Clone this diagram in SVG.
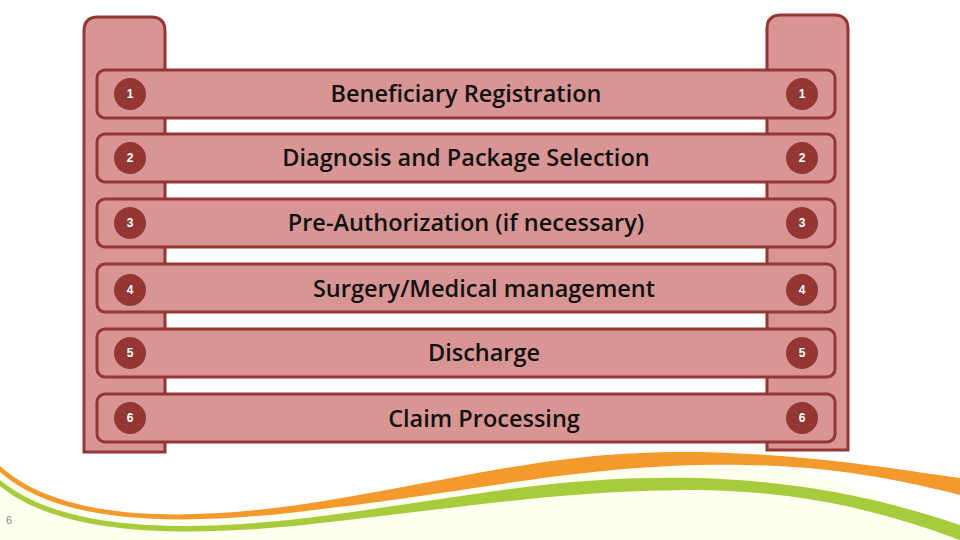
<svg xmlns="http://www.w3.org/2000/svg" width="960" height="540" viewBox="0 0 960 540">
<style>
.post,.bar{fill:#d99594;stroke:#943634;stroke-width:3}
.c{fill:#943634}
.n{font-family:"Liberation Sans",sans-serif;font-size:12px;font-weight:bold;fill:#fff;text-anchor:middle}
.t{font-family:"Open Sans","Liberation Sans",sans-serif;font-size:23.5px;font-weight:600;fill:#111;text-anchor:middle}
</style>
<rect width="960" height="540" fill="#fff"/>
<path d="M0,470 C80,540 200,520 360,500 C500,480 560,455 700,460 C820,465 900,500 960,540 L0,540Z" fill="#fffff0"/>
<path d="M0,466 C60,520 180,525 330,500 C480,475 560,450 700,452 C820,455 900,470 960,478 L960,495 C900,480 820,462 700,465 C570,468 480,490 330,508 C180,528 60,525 0,472Z" fill="#f4992b"/>
<path d="M0,480 C60,530 180,535 330,515 C480,495 560,475 700,478 C820,482 900,505 960,525 L960,540 C900,518 820,492 700,490 C570,490 480,505 330,522 C180,540 60,535 0,486Z" fill="#a6cb3b"/>
<text x="6" y="524" font-family="Liberation Sans,sans-serif" font-size="11" fill="#888">6</text>
<g id="post-left"><path class="post" d="M84,452 V31 Q84,17 98,17 H151 Q165,17 165,31 V452 Z"/></g>
<g id="post-right"><path class="post" d="M767,450 V29 Q767,15 781,15 H834 Q848,15 848,29 V450 Z"/></g>
<g id="connectors"></g>
<g id="step1"><rect class="bar" x="97" y="70" width="738" height="48" rx="8"/><circle class="c" cx="130" cy="94" r="16"/><text class="n" x="130" y="98">1</text><circle class="c" cx="802" cy="94" r="16"/><text class="n" x="802" y="98">1</text><text class="t" x="466" y="102">Beneficiary Registration</text></g>
<g id="step2"><rect class="bar" x="97" y="134" width="738" height="48" rx="8"/><circle class="c" cx="130" cy="158" r="16"/><text class="n" x="130" y="162">2</text><circle class="c" cx="802" cy="158" r="16"/><text class="n" x="802" y="162">2</text><text class="t" x="466" y="166">Diagnosis and Package Selection</text></g>
<g id="step3"><rect class="bar" x="97" y="199" width="738" height="48" rx="8"/><circle class="c" cx="130" cy="223" r="16"/><text class="n" x="130" y="227">3</text><circle class="c" cx="802" cy="223" r="16"/><text class="n" x="802" y="227">3</text><text class="t" x="466" y="231">Pre-Authorization (if necessary)</text></g>
<g id="step4"><rect class="bar" x="97" y="264" width="738" height="48" rx="8"/><circle class="c" cx="130" cy="290" r="16"/><text class="n" x="130" y="294">4</text><circle class="c" cx="802" cy="290" r="16"/><text class="n" x="802" y="294">4</text><text class="t" x="484" y="297">Surgery/Medical management</text></g>
<g id="step5"><rect class="bar" x="97" y="329" width="738" height="48" rx="8"/><circle class="c" cx="130" cy="353" r="16"/><text class="n" x="130" y="357">5</text><circle class="c" cx="802" cy="353" r="16"/><text class="n" x="802" y="357">5</text><text class="t" x="484" y="361">Discharge</text></g>
<g id="step6"><rect class="bar" x="97" y="394" width="738" height="48" rx="8"/><circle class="c" cx="130" cy="418" r="16"/><text class="n" x="130" y="422">6</text><circle class="c" cx="802" cy="418" r="16"/><text class="n" x="802" y="422">6</text><text class="t" x="484" y="427">Claim Processing</text></g>
</svg>
